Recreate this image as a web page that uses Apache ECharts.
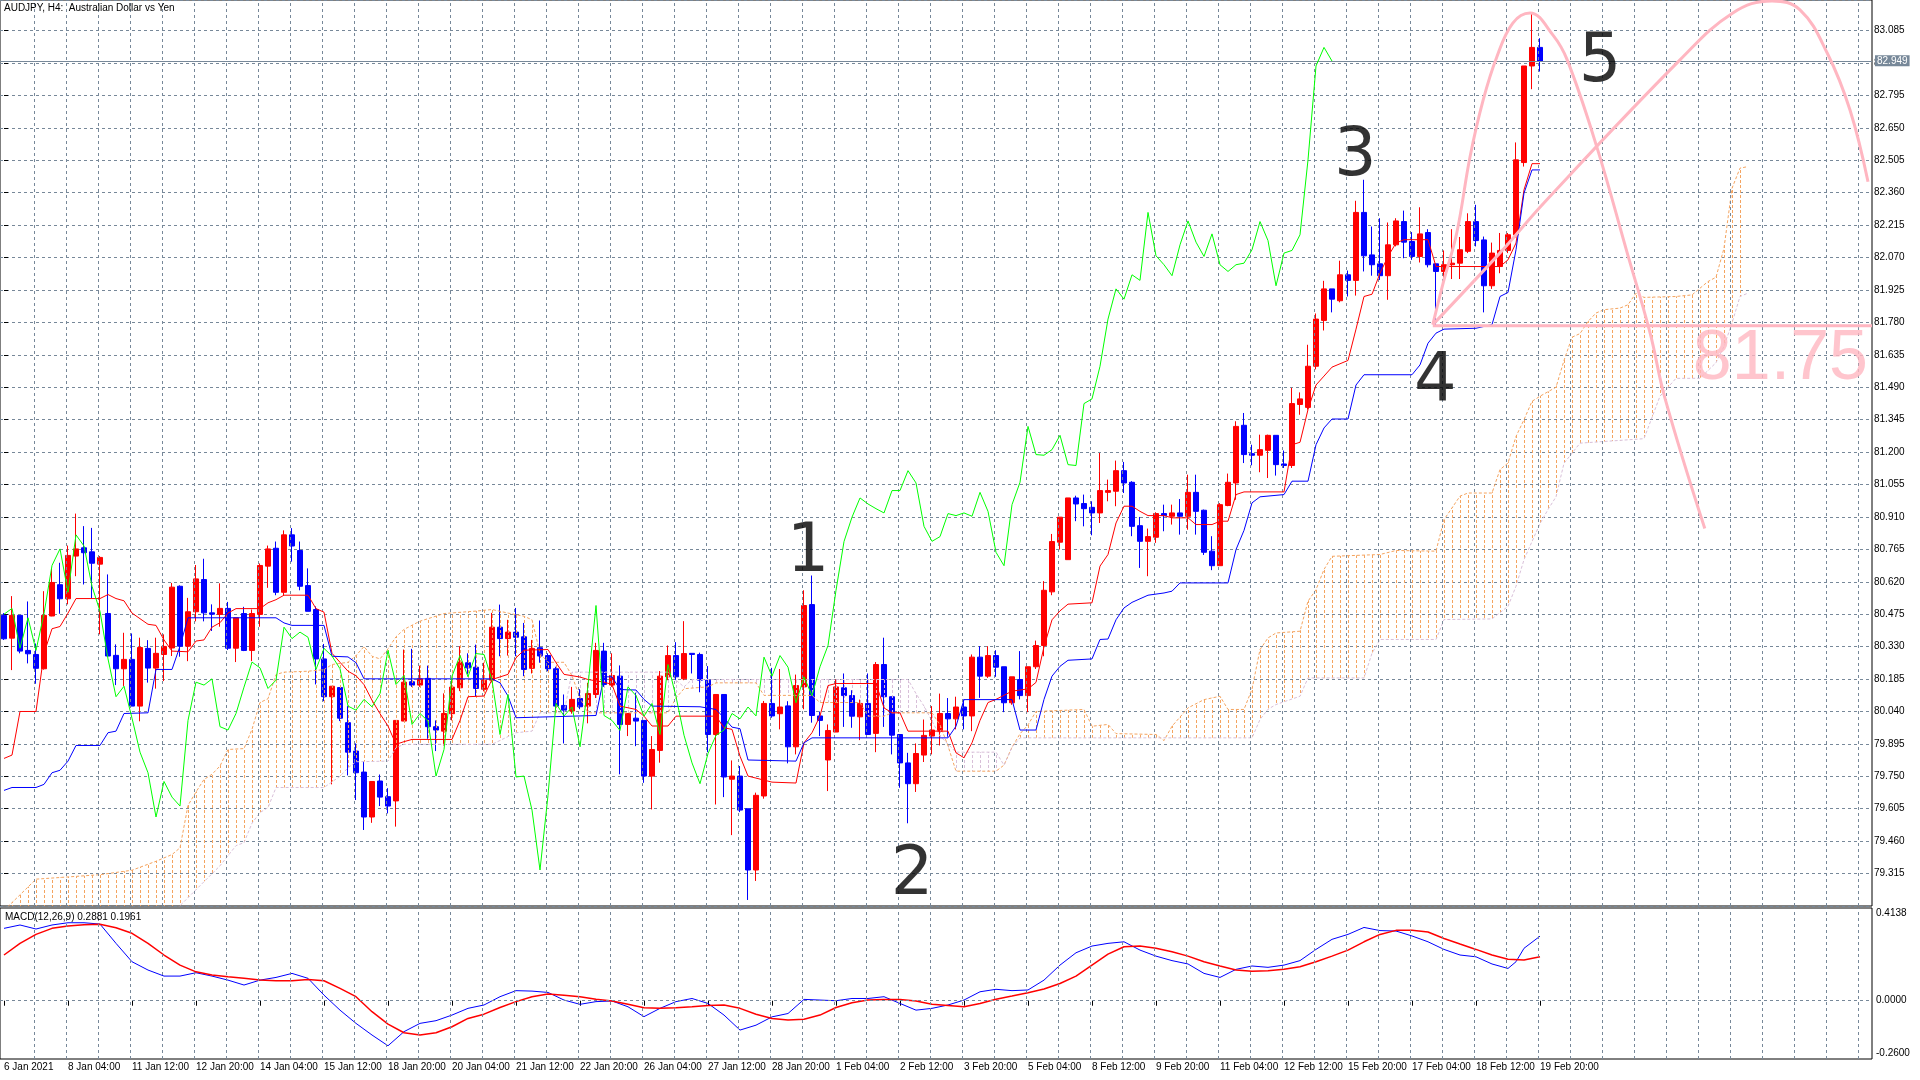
<!DOCTYPE html>
<html><head><meta charset="utf-8">
<script src="https://cdn.jsdelivr.net/npm/echarts@6/dist/echarts.min.js"></script>
<style>html,body{margin:0;padding:0;background:#fff}#c{width:1920px;height:1080px}</style>
</head><body><div id="c"></div>
<script>
// ---------- data ----------
const tickLabels = ['6 Jan 2021','8 Jan 04:00','11 Jan 12:00','12 Jan 20:00','14 Jan 04:00','15 Jan 12:00','18 Jan 20:00','20 Jan 04:00','21 Jan 12:00','22 Jan 20:00','26 Jan 04:00','27 Jan 12:00','28 Jan 20:00','1 Feb 04:00','2 Feb 12:00','3 Feb 20:00','5 Feb 04:00','8 Feb 12:00','9 Feb 20:00','11 Feb 04:00','12 Feb 12:00','15 Feb 20:00','17 Feb 04:00','18 Feb 12:00','19 Feb 20:00'];

const open = [80.47,80.368,80.47,80.313,80.295,80.231,80.467,80.607,80.544,80.735,80.772,80.754,80.699,80.478,80.291,80.231,80.273,80.064,80.322,80.234,80.295,80.324,80.60,80.332,80.486,80.63,80.481,80.474,80.501,80.323,80.478,80.313,80.474,80.69,80.77,80.573,80.83,80.76,80.603,80.496,80.275,80.106,80.147,79.99,79.863,79.769,79.568,79.729,79.659,79.64,79.997,80.173,80.158,80.188,79.972,79.952,80.03,80.146,80.258,80.238,80.139,80.18,80.417,80.366,80.395,80.374,80.233,80.325,80.29,80.231,80.067,80.042,80.098,80.064,80.116,80.31,80.158,80.198,79.982,80.01,80.0,79.751,79.866,80.195,80.29,80.186,80.3,80.295,80.18,79.937,80.116,79.737,79.751,79.605,79.331,79.662,80.076,80.03,80.065,79.882,80.15,80.518,80.02,79.823,79.948,80.146,80.111,80.016,80.076,79.942,80.25,80.106,79.937,79.81,79.717,79.845,79.93,79.952,80.031,80.007,80.06,80.02,80.283,80.198,80.29,80.24,80.079,80.183,80.111,80.24,80.335,80.575,80.797,80.719,80.995,80.97,80.953,80.928,81.02,81.025,81.117,81.065,80.871,80.801,80.819,80.925,80.913,80.928,80.913,81.02,80.94,80.757,80.692,80.961,81.062,81.32,81.193,81.186,81.208,81.275,81.147,81.14,81.413,81.40,81.584,81.789,81.93,81.877,81.993,81.968,82.272,82.082,82.042,81.989,82.127,82.231,82.142,82.075,82.182,82.042,82.008,82.038,82.045,82.098,82.231,82.149,81.944,82.03,82.102,82.172,82.495,82.927,83.01];
const close = [80.365,80.47,80.31,80.298,80.233,80.47,80.617,80.544,80.738,80.767,80.75,80.703,80.729,80.288,80.231,80.273,80.064,80.326,80.234,80.30,80.331,80.596,80.332,80.486,80.633,80.481,80.475,80.501,80.323,80.459,80.313,80.478,80.693,80.767,80.573,80.83,80.78,80.60,80.488,80.275,80.106,80.153,80.01,79.858,79.766,79.568,79.727,79.657,79.617,80.00,80.171,80.158,80.186,79.972,79.957,80.031,80.149,80.261,80.235,80.143,80.18,80.417,80.366,80.395,80.372,80.228,80.322,80.288,80.231,80.064,80.046,80.094,80.061,80.12,80.313,80.161,80.201,79.982,80.031,79.997,79.751,79.87,80.198,80.29,80.195,80.299,80.295,80.18,79.937,80.116,79.747,79.751,79.599,79.331,79.665,80.076,80.02,80.06,79.882,80.156,80.514,80.022,80.0,79.955,80.15,80.111,80.019,80.076,79.937,80.25,80.106,79.934,79.81,79.717,79.852,79.933,79.957,80.031,80.007,80.06,80.02,80.283,80.198,80.29,80.238,80.079,80.195,80.111,80.24,80.335,80.582,80.80,80.909,80.995,80.968,80.947,80.928,81.028,81.028,81.117,81.062,80.868,80.801,80.822,80.925,80.916,80.928,80.913,81.02,80.935,80.752,80.692,80.965,81.065,81.315,81.189,81.186,81.211,81.275,81.144,81.14,81.417,81.438,81.584,81.795,81.93,81.884,81.993,81.968,82.272,82.078,82.038,81.989,82.127,82.234,82.139,82.075,82.176,82.038,82.008,82.038,82.045,82.105,82.231,82.146,81.944,82.09,82.102,82.172,82.507,82.927,83.01,82.949];
const high = [80.48,80.556,80.47,80.532,80.344,80.578,80.68,80.705,80.782,80.925,80.869,80.861,80.735,80.653,80.34,80.392,80.389,80.37,80.359,80.37,80.385,80.615,80.604,80.548,80.695,80.723,80.519,80.613,80.53,80.459,80.508,80.496,80.702,80.782,80.80,80.85,80.86,80.80,80.68,80.51,80.342,80.153,80.147,80.064,79.897,79.818,79.727,79.758,79.697,80.00,80.317,80.32,80.245,80.245,80.0,80.121,80.176,80.332,80.30,80.339,80.258,80.481,80.518,80.45,80.503,80.436,80.36,80.447,80.30,80.24,80.116,80.15,80.14,80.168,80.347,80.347,80.30,80.246,80.031,80.124,80.0,79.93,80.221,80.335,80.35,80.444,80.30,80.303,80.243,80.116,80.116,79.821,79.796,79.605,79.677,80.087,80.235,80.23,80.086,80.205,80.582,80.648,80.04,79.982,80.183,80.21,80.135,80.093,80.21,80.261,80.37,80.106,79.937,79.855,79.897,80.004,80.064,80.12,80.1,80.106,80.094,80.295,80.332,80.332,80.314,80.24,80.195,80.31,80.24,80.357,80.623,80.834,80.909,80.995,81.005,81.01,80.98,81.196,81.077,81.162,81.156,81.07,80.91,80.858,80.931,80.965,80.965,80.99,81.099,81.099,80.943,80.824,80.972,81.104,81.338,81.375,81.233,81.278,81.278,81.275,81.207,81.487,81.467,81.68,81.82,81.966,81.93,82.056,82.012,82.324,82.418,82.209,82.246,82.227,82.246,82.28,82.184,82.295,82.197,82.042,82.102,82.197,82.162,82.268,82.306,82.164,82.137,82.18,82.18,82.585,82.927,83.163,83.051];
const low = [80.36,80.225,80.30,80.255,80.164,80.227,80.466,80.477,80.519,80.645,80.608,80.547,80.385,80.288,80.158,80.154,80.064,79.996,80.169,80.142,80.176,80.288,80.285,80.265,80.443,80.443,80.40,80.419,80.315,80.261,80.31,80.265,80.419,80.593,80.56,80.56,80.71,80.582,80.488,80.161,80.086,79.714,79.997,79.754,79.644,79.51,79.542,79.617,79.584,79.525,79.997,80.15,80.15,79.918,79.863,79.888,80.0,80.131,80.206,80.109,80.13,80.17,80.287,80.29,80.287,80.198,80.21,80.258,80.22,80.05,79.897,80.03,80.05,79.987,80.10,80.15,80.15,79.759,79.93,79.885,79.721,79.602,79.811,80.18,80.18,80.18,80.21,80.126,79.858,79.624,79.657,79.487,79.59,79.197,79.282,79.65,80.012,79.96,79.808,79.848,80.05,79.99,79.93,79.684,79.948,79.971,79.967,79.912,79.937,79.858,79.971,79.848,79.699,79.54,79.68,79.814,79.848,79.888,79.927,79.96,79.96,79.952,80.101,80.19,80.195,80.037,80.07,80.094,80.037,80.23,80.287,80.56,80.764,80.719,80.891,80.868,80.828,80.883,80.98,80.958,81.017,80.824,80.682,80.645,80.794,80.846,80.876,80.831,80.853,80.831,80.74,80.672,80.692,80.958,80.987,81.151,81.141,81.11,81.084,81.095,81.129,81.129,81.367,81.39,81.57,81.744,81.825,81.87,81.896,81.9,82.008,81.989,81.97,81.881,82.12,82.067,82.06,82.048,82.026,81.77,81.959,81.974,81.974,82.09,82.12,81.825,81.93,82.0,82.09,82.16,82.477,82.823,82.902];

// Ichimoku lines, [bar, price]
const tenkan = [[0,79.83],[1,79.845],[2,80.04],[4,80.04],[5,80.30],[6,80.41],[7,80.42],[8,80.48],[9,80.545],[12,80.545],[13,80.563],[14,80.545],[15,80.535],[16,80.48],[18,80.43],[19,80.425],[20,80.36],[21,80.31],[23,80.307],[24,80.355],[25,80.36],[26,80.417],[27,80.437],[28,80.48],[29,80.50],[32,80.50],[33,80.526],[34,80.54],[35,80.56],[38,80.56],[39,80.50],[40,80.484],[41,80.30],[42,80.26],[43,80.22],[44,80.20],[45,80.16],[46,80.09],[47,80.03],[48,79.975],[49,79.893],[50,79.905],[51,79.915],[56,79.915],[57,80.0],[58,80.106],[60,80.109],[61,80.183],[63,80.206],[64,80.28],[65,80.314],[68,80.317],[69,80.258],[70,80.206],[72,80.194],[73,80.183],[75,80.171],[76,80.161],[77,80.064],[79,80.049],[80,80.019],[81,79.975],[83,79.975],[84,80.019],[89,80.019],[90,79.967],[91,79.96],[92,79.84],[93,79.751],[96,79.724],[99,79.72],[100,79.90],[101,79.945],[102,80.02],[103,80.156],[104,80.165],[109,80.165],[110,80.056],[111,80.034],[112,80.034],[113,79.952],[118,79.952],[119,79.855],[120,79.833],[121,79.90],[122,80.0],[123,80.08],[124,80.094],[126,80.131],[128,80.141],[129,80.17],[130,80.33],[131,80.45],[132,80.49],[133,80.52],[136,80.526],[137,80.69],[138,80.742],[139,80.883],[140,80.958],[141,80.958],[142,80.935],[143,80.916],[145,80.916],[146,80.906],[148,80.906],[149,80.876],[151,80.876],[152,80.891],[153,80.891],[154,81.01],[155,81.022],[160,81.022],[161,81.233],[162,81.244],[163,81.39],[164,81.50],[165,81.54],[166,81.58],[168,81.61],[169,81.75],[170,81.896],[171,81.906],[172,82.0],[173,82.075],[174,82.135],[175,82.15],[178,82.15],[179,82.03],[187,82.03],[188,82.06],[189,82.135],[190,82.373],[191,82.49],[192,82.49]];
const kijun = [[0,79.687],[1,79.70],[4,79.70],[5,79.714],[6,79.766],[7,79.777],[8,79.818],[9,79.888],[12,79.888],[13,79.945],[14,79.952],[15,80.031],[18,80.034],[19,80.228],[21,80.228],[22,80.332],[23,80.459],[34,80.459],[35,80.436],[36,80.425],[40,80.425],[41,80.287],[43,80.284],[44,80.258],[45,80.186],[61,80.186],[62,80.168],[63,80.109],[64,80.012],[74,80.022],[75,80.195],[76,80.195],[77,80.138],[79,80.136],[80,80.094],[81,80.064],[87,80.061],[89,80.049],[90,80.012],[91,79.97],[92,79.963],[93,79.823],[99,79.818],[100,79.90],[101,79.922],[118,79.922],[119,79.974],[120,80.093],[126,80.093],[127,79.957],[129,79.957],[130,80.094],[131,80.198],[132,80.242],[133,80.269],[136,80.275],[137,80.362],[138,80.364],[139,80.45],[140,80.503],[141,80.528],[143,80.56],[145,80.57],[146,80.578],[147,80.615],[153,80.615],[154,80.764],[155,80.85],[156,80.973],[157,81.0],[160,81.01],[161,81.07],[163,81.07],[164,81.233],[165,81.308],[166,81.348],[168,81.348],[169,81.5],[170,81.546],[176,81.546],[177,81.59],[178,81.687],[179,81.732],[180,81.75],[184,81.754],[186,81.77],[187,81.896],[188,81.914],[189,82.105],[190,82.358],[191,82.462],[192,82.462]];
const spanA = [[0,79.15],[4,79.29],[8,79.30],[12,79.31],[16,79.33],[19,79.37],[21,79.40],[22,79.43],[23,79.62],[24,79.68],[25,79.736],[26,79.759],[27,79.796],[28,79.87],[30,79.874],[31,79.96],[32,80.08],[33,80.097],[34,80.205],[35,80.216],[38,80.22],[40,80.227],[41,80.25],[43,80.26],[44,80.29],[45,80.33],[46,80.287],[47,80.275],[48,80.32],[49,80.374],[50,80.407],[52,80.444],[53,80.455],[55,80.478],[59,80.489],[61,80.496],[63,80.48],[65,80.466],[66,80.45],[67,80.30],[68,80.26],[70,80.26],[71,80.20],[72,80.10],[73,80.034],[83,80.034],[84,80.10],[85,80.142],[88,80.15],[89,80.168],[94,80.168],[95,80.112],[101,80.112],[102,80.08],[107,80.08],[108,80.019],[110,80.019],[111,80.034],[116,80.034],[117,79.98],[118,79.886],[119,79.773],[124,79.773],[125,79.80],[126,79.88],[127,79.94],[128,79.98],[129,80.04],[135,80.049],[136,79.974],[138,79.982],[139,79.941],[144,79.937],[145,79.91],[146,79.974],[148,80.056],[150,80.093],[152,80.108],[153,80.049],[155,80.049],[156,80.14],[157,80.317],[158,80.369],[159,80.391],[162,80.399],[163,80.533],[164,80.585],[165,80.675],[166,80.734],[172,80.742],[174,80.76],[179,80.757],[180,80.898],[182,81.003],[183,81.017],[186,81.017],[187,81.122],[188,81.151],[189,81.27],[190,81.345],[191,81.427],[192,81.45],[194,81.49],[195,81.61],[196,81.714],[197,81.73],[198,81.784],[199,81.822],[200,81.837],[202,81.844],[203,81.859],[204,81.911],[205,81.892],[209,81.896],[211,81.903],[212,81.933],[213,81.963],[214,81.982],[215,82.112],[216,82.38],[217,82.47],[218,82.477]];
const spanB = [[0,79.0],[20,79.1],[27,79.35],[29,79.44],[30,79.453],[31,79.54],[32,79.588],[33,79.61],[34,79.70],[40,79.70],[42,79.75],[43,79.788],[44,79.815],[48,79.818],[49,79.878],[50,79.893],[61,79.893],[64,79.945],[66,79.952],[67,80.034],[70,80.034],[71,80.216],[83,80.216],[84,80.18],[85,80.15],[86,80.183],[113,80.183],[114,80.12],[115,80.064],[117,79.93],[119,79.858],[124,79.858],[125,79.80],[126,79.88],[127,79.922],[156,79.922],[157,80.004],[158,80.05],[159,80.071],[162,80.108],[163,80.19],[170,80.19],[171,80.30],[172,80.362],[179,80.362],[180,80.451],[186,80.454],[188,80.51],[189,80.6],[190,80.719],[191,80.80],[192,80.88],[193,80.943],[194,81.0],[195,81.15],[197,81.24],[205,81.26],[207,81.45],[209,81.53],[212,81.53],[214,81.6],[215,81.673],[216,81.777],[217,81.896],[218,81.911]];
const chikouShift = 26;

// MACD(12,26,9), [bar, value]
const macdLine = [[0,0.323],[2,0.338],[4,0.32],[6,0.338],[8,0.348],[10,0.348],[12,0.342],[14,0.256],[16,0.174],[18,0.137],[20,0.11],[22,0.11],[24,0.125],[26,0.11],[28,0.092],[30,0.07],[32,0.092],[34,0.104],[36,0.122],[38,0.10],[40,0.025],[42,-0.042],[44,-0.101],[46,-0.153],[48,-0.201],[50,-0.138],[52,-0.101],[54,-0.089],[56,-0.064],[58,-0.034],[60,-0.019],[62,0.018],[64,0.045],[66,0.043],[68,0.037],[70,0.003],[72,-0.016],[74,-0.004],[76,-0.001],[78,-0.027],[80,-0.071],[82,-0.034],[84,-0.004],[86,0.01],[88,-0.012],[90,-0.064],[92,-0.131],[94,-0.109],[96,-0.072],[98,-0.057],[100,0.006],[102,0.003],[104,0.0],[106,0.01],[108,0.01],[110,0.018],[112,-0.012],[114,-0.042],[116,-0.034],[118,-0.019],[120,0.003],[122,0.04],[124,0.051],[126,0.045],[128,0.048],[130,0.092],[132,0.159],[134,0.214],[136,0.244],[138,0.256],[140,0.263],[142,0.226],[144,0.199],[146,0.179],[148,0.164],[150,0.122],[152,0.104],[154,0.14],[156,0.155],[158,0.149],[160,0.159],[162,0.179],[164,0.229],[166,0.274],[168,0.296],[170,0.327],[172,0.313],[174,0.311],[176,0.289],[178,0.263],[180,0.229],[182,0.204],[184,0.196],[186,0.164],[188,0.144],[189,0.174],[190,0.234],[192,0.2881]];
const signalLine = [[0,0.204],[2,0.256],[4,0.296],[6,0.323],[8,0.333],[10,0.339],[12,0.341],[14,0.326],[16,0.301],[18,0.256],[20,0.204],[22,0.159],[24,0.129],[26,0.115],[28,0.107],[30,0.10],[32,0.092],[34,0.089],[36,0.089],[38,0.095],[40,0.089],[42,0.055],[44,0.018],[46,-0.049],[48,-0.104],[50,-0.143],[52,-0.153],[54,-0.143],[56,-0.116],[58,-0.079],[60,-0.06],[62,-0.03],[64,-0.004],[66,0.018],[68,0.03],[70,0.025],[72,0.018],[74,0.007],[76,-0.001],[78,-0.016],[80,-0.031],[82,-0.034],[84,-0.031],[86,-0.027],[88,-0.021],[90,-0.019],[92,-0.034],[94,-0.06],[96,-0.079],[98,-0.086],[100,-0.083],[102,-0.064],[104,-0.03],[106,-0.009],[108,0.003],[110,0.006],[112,0.006],[114,-0.001],[116,-0.016],[118,-0.021],[120,-0.027],[122,-0.012],[124,0.007],[126,0.021],[128,0.036],[130,0.052],[132,0.077],[134,0.11],[136,0.159],[138,0.208],[140,0.241],[142,0.244],[144,0.234],[146,0.219],[148,0.199],[150,0.174],[152,0.155],[154,0.137],[156,0.132],[158,0.134],[160,0.141],[162,0.152],[164,0.174],[166,0.199],[168,0.226],[170,0.263],[172,0.296],[174,0.314],[176,0.314],[178,0.307],[180,0.278],[182,0.253],[184,0.229],[186,0.204],[188,0.185],[190,0.182],[192,0.1961]];

// hand-drawn annotations (anchored at [bar, price])
const arcNarrow = [[178.6,81.77],[179.9,81.957],[181.6,82.181],[183.25,82.52],[184.9,82.775],[186.6,82.967],[188.6,83.119],[190.75,83.164],[193.6,83.066],[195.4,82.954],[199.1,82.565],[202.9,82.091],[205.75,81.734],[207.6,81.444],[212.6,80.858]];
const arcWide = [[178.6,81.77],[187,82.091],[192.6,82.319],[209.5,82.954],[216.1,83.164],[221,83.218],[224.5,83.178],[227.9,82.985],[230.75,82.73],[233,82.409]];
const levelLine = [[178.6,81.765],[233.5,81.765]];
const waveLabels = [['1',100.5,80.745],['2',113.5,79.302],['3',168.9,82.515],['4',178.9,81.505],['5',199.5,82.936]];
const levelText = ['81.75',233,81.612];

// cloud colouring ranges [fromBar, toBar, 0=orange(A>B) 1=thistle(B>A)]
const cloudRegions = [[0,70,0],[71,125,1],[125,218,0]];

// ---------- chart ----------
const N = 234;
const GRID_STEP = 4;
const cats = Array.from({length: N}, (_, i) => String(i));
const candles = open.map((o, i) => [o, close[i], low[i], high[i]]);
const chikou = close.slice(chikouShift).map((v, i) => [i, v]);
const FONT = 'Liberation Sans';
const GRID_C = '#778899';

function hatch(color) {
  const c = document.createElement('canvas');
  c.width = 8; c.height = 5;
  const g = c.getContext('2d');
  g.fillStyle = color;
  g.fillRect(4, 0, 1, 3);
  return {image: c, repeat: 'repeat'};
}
const hatchFill = [hatch('#F4A460'), hatch('#D8BFD8')];

const labelInterval = (idx) => idx % 8 === 0 && idx / 8 < tickLabels.length;
// vertical grid every 4 bars (MT5 grid passes through the bar)
const vGridMain = [], vGridMacd = [];
for (let b = GRID_STEP; b < N; b += GRID_STEP) { vGridMain.push({xAxis: b - 0.25}); vGridMacd.push({xAxis: b - 0.25}); }
const vMark = (d) => ({silent: true, symbol: 'none', animation: false, label: {show: false},
  lineStyle: {color: GRID_C, type: [3, 3], width: 1}, data: d});

const chart = echarts.init(document.getElementById('c'), null, {renderer: 'canvas'});
const lineBase = {type: 'line', showSymbol: false, symbol: 'none', silent: true, animation: false};

chart.setOption({
  animation: false,
  backgroundColor: '#ffffff',
  textStyle: {fontFamily: FONT},
  grid: [
    {left: 0, top: 0, width: 1872, height: 906, show: true, borderColor: '#000', borderWidth: 1},
    {left: 0, top: 908, width: 1872, height: 151, show: true, borderColor: '#000', borderWidth: 1}
  ],
  graphic: [
    {type: 'text', left: 4, top: 3, z: 100, style: {text: 'AUDJPY, H4:  Australian Dollar vs Yen', font: '10px "Liberation Sans"', fill: '#000'}},
    {type: 'text', left: 5, top: 912, z: 100, style: {text: 'MACD(12,26,9) 0.2881 0.1961', font: '10px "Liberation Sans"', fill: '#000'}}
  ],
  xAxis: [
    {type: 'category', gridIndex: 0, data: cats, boundaryGap: true,
     axisLine: {show: false}, axisTick: {show: false}, axisLabel: {show: false}, splitLine: {show: false}},
    {type: 'value', gridIndex: 0, min: -0.5, max: N - 0.5, show: false, splitLine: {show: false}},
    {type: 'category', gridIndex: 1, data: cats, boundaryGap: true,
     axisLine: {show: false},
     axisTick: {show: true, interval: labelInterval, alignWithLabel: true, length: 5, lineStyle: {color: '#000'}},
     axisLabel: {show: true, interval: labelInterval, align: 'left', margin: 3, fontSize: 10, color: '#000', fontFamily: FONT,
       formatter: (v, idx) => tickLabels[idx / 8] || ''},
     splitLine: {show: false}},
    {type: 'value', gridIndex: 1, min: -0.5, max: N - 0.5, show: false, splitLine: {show: false}}
  ],
  yAxis: [
    {type: 'value', gridIndex: 0, position: 'right', min: 79.17, max: 83.222, interval: 0.145, scale: true,
     axisLine: {show: false},
     axisTick: {show: true, length: 4, lineStyle: {color: '#000'}},
     axisLabel: {show: true, margin: 2, fontSize: 10, color: '#000', fontFamily: FONT, showMinLabel: false, showMaxLabel: false,
       formatter: (v) => v.toFixed(3)},
     splitLine: {show: true, lineStyle: {color: GRID_C, type: [3, 3], width: 1}}},
    {type: 'value', gridIndex: 1, position: 'right', min: -0.26, max: 0.4138,
     axisLine: {show: false}, axisTick: {show: false}, splitLine: {show: false},
     axisLabel: {show: true, margin: 4, fontSize: 10, color: '#000', fontFamily: FONT,
       customValues: [-0.233, 0, 0.3915],
       formatter: (v) => v > 0.2 ? '0.4138' : (v < -0.1 ? '-0.2600' : '0.0000')}}
  ],
  series: [
    Object.assign({}, lineBase, {name: 'vgrid-main', xAxisIndex: 1, yAxisIndex: 0, z: 1, data: [], markLine: vMark(vGridMain)}),
    Object.assign({}, lineBase, {name: 'vgrid-macd', xAxisIndex: 3, yAxisIndex: 1, z: 1, data: [], markLine: vMark(vGridMacd)}),
    {type: 'candlestick', name: 'AUDJPY', xAxisIndex: 0, yAxisIndex: 0, z: 2, barWidth: 5, silent: true,
     data: candles,
     itemStyle: {color: '#ff0000', color0: '#0000ff', borderColor: '#ff0000', borderColor0: '#0000ff', borderWidth: 1},
     markLine: {silent: true, symbol: 'none', animation: false,
       data: [{yAxis: close[close.length - 1]}],
       lineStyle: {color: GRID_C, type: 'solid', width: 1},
       label: {show: true, position: 'end', distance: 3, formatter: close[close.length - 1].toFixed(3),
         backgroundColor: GRID_C, color: '#ffffff', fontSize: 10, fontFamily: FONT, padding: [1, 2, 0, 2]}}},
    {type: 'custom', name: 'cloud', xAxisIndex: 1, yAxisIndex: 0, z: 3, silent: true, clip: true,
     data: cloudRegions.map((r, k) => [k]),
     renderItem: function (params, api) {
       const r = cloudRegions[params.dataIndex];
       const top = spanA.filter(p => p[0] >= r[0] && p[0] <= r[1]).map(p => api.coord(p));
       const bot = spanB.filter(p => p[0] >= r[0] && p[0] <= r[1]).map(p => api.coord(p)).reverse();
       return {type: 'polygon', shape: {points: top.concat(bot)}, style: {fill: hatchFill[r[2]]}};
     }},
    Object.assign({}, lineBase, {name: 'Senkou A', xAxisIndex: 1, yAxisIndex: 0, z: 4, data: spanA,
      lineStyle: {color: '#F4A460', width: 1, type: [3, 2]}}),
    Object.assign({}, lineBase, {name: 'Senkou B', xAxisIndex: 1, yAxisIndex: 0, z: 4, data: spanB,
      lineStyle: {color: '#D8BFD8', width: 1, type: [3, 2]}}),
    Object.assign({}, lineBase, {name: 'Tenkan', xAxisIndex: 1, yAxisIndex: 0, z: 5, data: tenkan,
      lineStyle: {color: '#ff0000', width: 1}}),
    Object.assign({}, lineBase, {name: 'Kijun', xAxisIndex: 1, yAxisIndex: 0, z: 5, data: kijun,
      lineStyle: {color: '#0000ff', width: 1}}),
    Object.assign({}, lineBase, {name: 'Chikou', xAxisIndex: 1, yAxisIndex: 0, z: 5, data: chikou,
      lineStyle: {color: '#00ff00', width: 1}}),
    Object.assign({}, lineBase, {name: 'arc1', xAxisIndex: 1, yAxisIndex: 0, z: 6, data: arcNarrow, smooth: 0.4,
      lineStyle: {color: '#FFB6C1', width: 3}}),
    Object.assign({}, lineBase, {name: 'arc2', xAxisIndex: 1, yAxisIndex: 0, z: 6, data: arcWide, smooth: 0.4,
      lineStyle: {color: '#FFB6C1', width: 3}}),
    Object.assign({}, lineBase, {name: 'level', xAxisIndex: 1, yAxisIndex: 0, z: 6, data: levelLine,
      lineStyle: {color: '#FFB6C1', width: 3}}),
    {type: 'scatter', name: 'labels', xAxisIndex: 1, yAxisIndex: 0, z: 7, silent: true, symbolSize: 0,
     data: waveLabels.map(w => ({value: [w[1], w[2]], label: {show: true, formatter: w[0], position: 'inside',
       fontSize: 67, color: '#000', fontFamily: 'DejaVu Sans', align: 'center', verticalAlign: 'middle'}}))
       .concat([{value: [levelText[1], levelText[2]], label: {show: true, formatter: levelText[0], position: 'inside',
       fontSize: 70, color: '#FFB6C1', fontFamily: FONT, align: 'right', verticalAlign: 'middle'}}])},
    Object.assign({}, lineBase, {name: 'MACD', xAxisIndex: 3, yAxisIndex: 1, z: 4, data: macdLine,
      lineStyle: {color: '#0000ff', width: 1},
      markLine: {silent: true, symbol: 'none', animation: false, data: [{yAxis: 0}], label: {show: false},
        lineStyle: {color: GRID_C, type: [3, 3], width: 1}}}),
    Object.assign({}, lineBase, {name: 'Signal', xAxisIndex: 3, yAxisIndex: 1, z: 4, data: signalLine,
      lineStyle: {color: '#ff0000', width: 1.5}})
  ]
});
</script>
</body></html>
